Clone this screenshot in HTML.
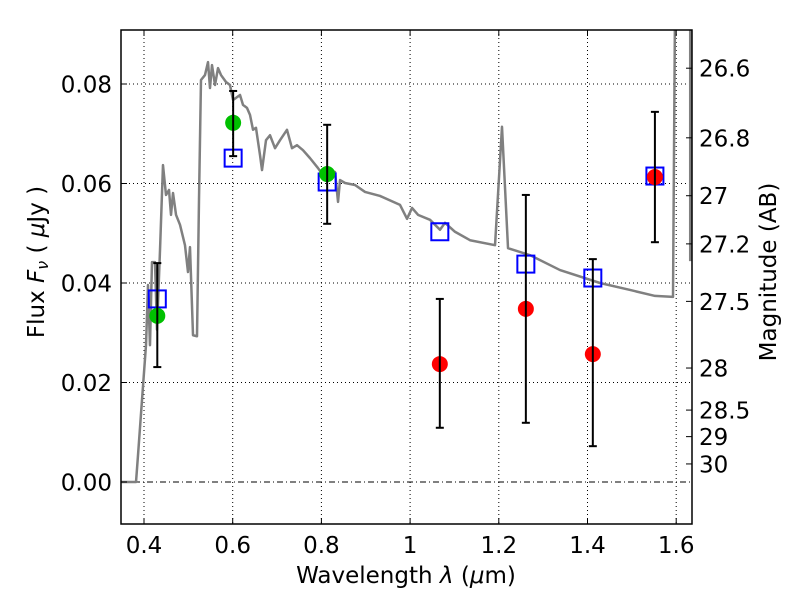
<!DOCTYPE html>
<html><head><meta charset="utf-8"><style>
body{margin:0;background:#fff}
svg{display:block;font-family:"DejaVu Sans","Liberation Sans",sans-serif}
</style></head><body>
<svg id="chart" width="800" height="600"></svg>
<script>
const specLam=[0.348,0.382,0.3865,0.3955,0.4045,0.409,0.4135,0.418,0.4248,0.4293,0.4361,0.4428,0.4496,0.4564,0.4609,0.4654,0.4722,0.4812,0.4924,0.4992,0.5037,0.5105,0.5195,0.524,0.5285,0.5375,0.5443,0.5488,0.5533,0.5601,0.5669,0.5736,0.5849,0.5939,0.6007,0.6074,0.6165,0.6232,0.6322,0.639,0.6458,0.6525,0.6616,0.6661,0.6751,0.6841,0.6954,0.7067,0.7224,0.7337,0.745,0.7585,0.7743,0.7923,0.8081,0.8194,0.8307,0.8375,0.842,0.8533,0.8758,0.8984,0.9322,0.9773,0.9931,1.0044,1.0179,1.0449,1.0674,1.0787,1.1012,1.1351,1.1915,1.2072,1.2208,1.2704,1.338,1.4282,1.4959,1.5522,1.5928,1.5973];
const specFlux=[0,0,0.0054,0.0165,0.0275,0.0396,0.0275,0.0442,0.0442,0.0306,0.0466,0.0637,0.0577,0.0587,0.0537,0.0581,0.0537,0.0517,0.0476,0.0422,0.0472,0.0295,0.0293,0.0567,0.0808,0.0818,0.0844,0.0792,0.0838,0.0798,0.0832,0.0818,0.0804,0.0798,0.0768,0.0772,0.0778,0.0758,0.0752,0.0738,0.0708,0.0712,0.0657,0.0627,0.0687,0.0697,0.0671,0.0687,0.0708,0.0671,0.0677,0.0667,0.0651,0.0631,0.0611,0.0627,0.0623,0.0563,0.0607,0.0601,0.0597,0.0583,0.0575,0.0557,0.0529,0.0551,0.0537,0.0527,0.0507,0.0521,0.0503,0.0486,0.0476,0.0714,0.047,0.0456,0.0426,0.04,0.0386,0.0374,0.0372,0.095];
const spec2Lam=[1.6316,1.6316];
const spec2Flux=[0.095,0.0444];
const greenLam=[0.43,0.601,0.813];
const greenFlux=[0.0334,0.0722,0.0619];
const greenHi=[0.0440,0.0786,0.0718];
const greenLo=[0.0231,0.0655,0.0519];
const redLam=[1.067,1.261,1.412,1.552];
const redFlux=[0.0237,0.0348,0.0257,0.0613];
const redHi=[0.0368,0.0577,0.0448,0.0744];
const redLo=[0.0109,0.0119,0.0072,0.0482];
const modelLam=[0.43,0.601,0.813,1.067,1.261,1.412,1.552];
const modelFlux=[0.0368,0.0651,0.0603,0.0503,0.0438,0.041,0.0615];
const xTicks=[0.4,0.6,0.8,1,1.2,1.4,1.6];
const xTickLabels=["0.4","0.6","0.8","1","1.2","1.4","1.6"];
const yTicks=[0,0.02,0.04,0.06,0.08];
const yTickLabels=["0.00","0.02","0.04","0.06","0.08"];
const magTicks=[26.6,26.8,27,27.2,27.5,28,28.5,29,30];
const magTickLabels=["26.6","26.8","27","27.2","27.5","28","28.5","29","30"];

const L=121,R=692,T=30,B=524;
const X=v=>144+(v-0.4)*443.5;
const Y=v=>482-v*4975;
const magToFlux=m=>Math.pow(10,(23.9-m)/2.5);
const svg=document.getElementById('chart');
const NS='http://www.w3.org/2000/svg';
function mk(tag,attrs,parent){const e=document.createElementNS(NS,tag);for(const k in attrs)e.setAttribute(k,attrs[k]);(parent||svg).appendChild(e);return e;}
const clip=mk('clipPath',{id:'pc'});mk('rect',{x:L,y:T,width:R-L,height:B-T},clip);
xTicks.forEach((t,i)=>{const g=mk('line',{x1:X(t),x2:X(t),y1:T,y2:B,stroke:'#000','stroke-width':1,'stroke-dasharray':'1,3'});

});
yTicks.forEach((t,i)=>{const g=mk('line',{x1:L,x2:R,y1:Y(t),y2:Y(t),stroke:'#000','stroke-width':1,'stroke-dasharray':t===0?'6,3,1,3':'1,3'});

});
const pg=mk('g',{'clip-path':'url(#pc)'});


const sp=mk('polyline',{points:specLam.map((l,i)=>X(l)+','+Y(specFlux[i])).join(' '),fill:'none',stroke:'#808080','stroke-width':2.5,'stroke-linejoin':'round'},pg);


const sp2=mk('polyline',{points:spec2Lam.map((l,i)=>X(l)+','+Y(spec2Flux[i])).join(' '),fill:'none',stroke:'#808080','stroke-width':2.5},pg);


modelLam.forEach((l,i)=>{const r=mk('rect',{x:X(l)-8.5,y:Y(modelFlux[i])-8.5,width:17,height:17,fill:'none',stroke:'#0000ff','stroke-width':2},pg);

});
function errbars(lam,hi,lo,name){lam.forEach((l,i)=>{const g=mk('g',{stroke:'#000','stroke-width':2},pg);


mk('line',{x1:X(l),x2:X(l),y1:Y(hi[i]),y2:Y(lo[i])},g);
mk('line',{x1:X(l)-4,x2:X(l)+4,y1:Y(hi[i]),y2:Y(hi[i])},g);
mk('line',{x1:X(l)-4,x2:X(l)+4,y1:Y(lo[i]),y2:Y(lo[i])},g);});}
function pts(lam,fl,col,name){lam.forEach((l,i)=>{const c=mk('circle',{cx:X(l),cy:Y(fl[i]),r:8,fill:col},pg);

});}
pts(greenLam,greenFlux,'#00c000','detection-point');
pts(redLam,redFlux,'#ff0000','upper-limit-point');
errbars(greenLam,greenHi,greenLo,'detection-errorbar');
errbars(redLam,redHi,redLo,'upper-limit-errorbar');
const fr=mk('rect',{x:L,y:T,width:R-L,height:B-T,fill:'none',stroke:'#000','stroke-width':1.5});


xTicks.forEach((t,i)=>{mk('line',{x1:X(t),x2:X(t),y1:B,y2:B-6,stroke:'#000'});mk('line',{x1:X(t),x2:X(t),y1:T,y2:T+6,stroke:'#000'});
const tx=mk('text',{x:X(t),y:B+29,'text-anchor':'middle','font-size':23});tx.textContent=xTickLabels[i];

});
yTicks.forEach((t,i)=>{mk('line',{x1:L,x2:L+6,y1:Y(t),y2:Y(t),stroke:'#000'});
const tx=mk('text',{x:L-9,y:Y(t)+8.5,'text-anchor':'end','font-size':23});tx.textContent=yTickLabels[i];

});
magTicks.forEach((m,i)=>{const y=Y(magToFlux(m));mk('line',{x1:R,x2:R-6,y1:y,y2:y,stroke:'#000'});
const tx=mk('text',{x:R+7,y:y+8.5,'font-size':23});tx.textContent=magTickLabels[i];

});
</script>
<svg width="800" height="600" style="position:absolute;left:0;top:0">
<text x="406" y="583" text-anchor="middle" font-size="23">Wavelength  <tspan font-style="italic">λ</tspan> (<tspan font-style="italic">μ</tspan>m)</text>
<text transform="translate(44,262) rotate(-90)" text-anchor="middle" font-size="23">Flux  <tspan font-style="italic">F</tspan><tspan font-style="italic" font-size="16" dy="4">ν</tspan><tspan dy="-4">  (  </tspan><tspan font-style="italic">μ</tspan>Jy )</text>
<text transform="translate(776,272) rotate(-90)" text-anchor="middle" font-size="23">Magnitude (AB)</text>
</svg>
</body></html>
